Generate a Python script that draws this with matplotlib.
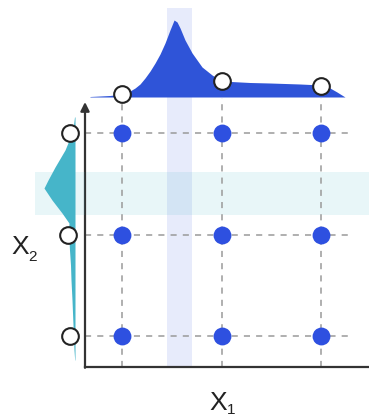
import matplotlib.pyplot as plt
import numpy as np

plt.rcParams['font.family'] = ['Liberation Sans', 'DejaVu Sans']

# niveles de la rejilla
x1_levels = [1, 2, 3]
x2_levels = [1, 2, 3]

# densidad marginal de X1 (arriba)
x1_pos = [0.678, 0.879, 1.0, 1.08, 1.131, 1.181, 1.231, 1.282, 1.332, 1.382, 1.432, 1.482,
          1.523, 1.553, 1.583, 1.633, 1.704, 1.804, 1.905, 2.0, 2.286, 2.487, 2.789,
          3.0, 3.09, 3.16, 3.241]
x1_dens = [0.005, 0.015, 0.03, 0.06, 0.09, 0.13, 0.19, 0.26, 0.34, 0.43, 0.54, 0.67,
           0.77, 0.75, 0.69, 0.57, 0.44, 0.30, 0.22, 0.16, 0.145, 0.14, 0.13,
           0.12, 0.09, 0.05, 0.0]
x1_marg = [0.03, 0.16, 0.115]

# densidad marginal de X2 (izquierda)
x2_pos = [3.158, 3.079, 3.0, 2.833, 2.665, 2.537, 2.458, 2.340, 2.212, 2.113,
          2.044, 1.946, 1.847, 1.700, 1.552, 1.355, 1.158, 1.0, 0.862, 0.764]
x2_dens = [0.005, 0.015, 0.03, 0.10, 0.20, 0.27, 0.31, 0.23, 0.13, 0.06,
           0.065, 0.06, 0.055, 0.045, 0.04, 0.03, 0.022, 0.015, 0.01, 0.003]
x2_marg = [0.05, 0.07, 0.047]

# franjas resaltadas
band_x1 = [1.452, 1.704]
band_x2 = [2.192, 2.616]

W, H = 369, 418


def caja(l, t, r, b):
    return [l / W, 1 - b / H, (r - l) / W, (b - t) / H]


fig = plt.figure(figsize=(W / 100, H / 100), dpi=100)

ax = fig.add_axes(caja(85, 98, 369, 367))
ax.set_xlim(0.628, 3.482)
ax.set_ylim(0.695, 3.345)

ax_left = fig.add_axes(caja(35, 98, 85, 367), sharey=ax)
ax_left.set_xlim(0.40, -0.10)
ax_top = fig.add_axes(caja(85, 0, 369, 98), sharex=ax)
ax_top.set_ylim(-0.01, 0.97)

azul_band = '#3f5fe0'
cian = '#46b5c9'

# franjas
ax.axvspan(*band_x1, color=azul_band, alpha=0.12, lw=0, zorder=0)
ax.axhspan(*band_x2, color=cian, alpha=0.12, lw=0, zorder=0)
ax_left.axhspan(*band_x2, color=cian, alpha=0.12, lw=0, zorder=0)
ax_top.fill_between(band_x1, -0.01, 0.89, color=azul_band, alpha=0.12, lw=0, zorder=0)

# rejilla punteada
for x in x1_levels:
    ax.axvline(x, color='#9a9a9a', lw=1.1, ls=(0, (4, 4)), zorder=1)
ax.hlines(x2_levels, 0.628, 3.29, color='#9a9a9a', lw=1.1, ls=(0, (4, 4)), zorder=1)

# puntos
gx, gy = np.meshgrid(x1_levels, x2_levels)
ax.scatter(gx.ravel(), gy.ravel(), s=165, color='#2e50e0', lw=0, zorder=3)

# ejes
for s in ['top', 'right', 'left']:
    ax.spines[s].set_visible(False)
ax.spines['bottom'].set_color('#333333')
ax.spines['bottom'].set_linewidth(1.6)
ax.set_xticks([])
ax.set_yticks([])
ax.set_facecolor('none')
ax.annotate('', xy=(0, 0.985), xytext=(0, -0.003), xycoords='axes fraction',
            arrowprops=dict(arrowstyle='-|>', color='#333333', lw=1.6,
                            mutation_scale=13, shrinkA=0, shrinkB=0))

# marginales
ax_top.fill_between(x1_pos, 0, x1_dens, color='#2f54d8', lw=0, zorder=2)
ax_top.plot(x1_levels, x1_marg, 'o', ms=12, mfc='white', mec='#222222', mew=1.5,
            clip_on=False, zorder=5)
ax_top.axis('off')

ax_left.fill_betweenx(x2_pos, 0, x2_dens, color=cian, lw=0, zorder=2)
ax_left.plot(x2_marg, x2_levels, 'o', ms=12, mfc='white', mec='#222222', mew=1.5,
             clip_on=False, zorder=5)
ax_left.axis('off')

# etiquetas
fig.text(20 / W, 1 - 247 / H, 'X', fontsize=19, ha='center', va='center', color='#222222')
fig.text(28 / W, 1 - 257 / H, '2', fontsize=11, ha='left', va='center', color='#222222')
fig.text(218 / W, 1 - 403 / H, 'X', fontsize=19, ha='center', va='center', color='#222222')
fig.text(227 / W, 1 - 410 / H, '1', fontsize=11, ha='left', va='center', color='#222222')

fig.savefig('out.png', dpi=100)
